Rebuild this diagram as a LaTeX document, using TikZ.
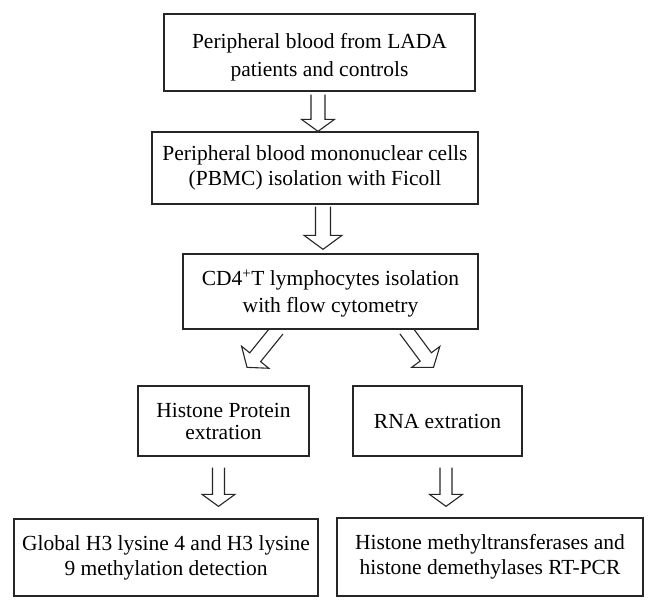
\documentclass[tikz,border=0pt]{standalone}
\usepackage{fontspec}
\setmainfont{Liberation Serif}
\usetikzlibrary{calc}
\pgfdeclarelayer{bg}
\pgfdeclarelayer{arr}
\pgfsetlayers{bg,arr,main}
% #1 start, #2 tip, #3 shaft half width, #4 head half width, #5 head length
\newcommand{\blockarr}[5]{%
  \draw[blockarrow]
    ($(#1)!#3!90:(#2)$)
    -- ($($(#2)!#5!(#1)$)!#3!90:(#2)$)
    -- ($($(#2)!#5!(#1)$)!#4!90:(#2)$)
    -- (#2)
    -- ($($(#2)!#5!(#1)$)!#4!-90:(#2)$)
    -- ($($(#2)!#5!(#1)$)!#3!-90:(#2)$)
    -- ($(#1)!#3!-90:(#2)$);%
}
\tikzset{
  box/.style={draw=black!85, line width=1.3pt, fill=white, align=center,
    inner sep=0pt, font=\fontsize{21.5pt}{#1}\selectfont},
  txt/.style={align=center, inner sep=0pt, font=\fontsize{21.5pt}{#1}\selectfont},
  blockarrow/.style={draw=black!85, line width=1.1pt, line join=miter}
}
\begin{document}
\begin{tikzpicture}[x=1pt,y=-1pt]
\begin{pgfonlayer}{bg}
  \fill[white] (0,0) rectangle (658,611);
\end{pgfonlayer}
\useasboundingbox (0,0) rectangle (658,611);

\node[box=28pt, minimum width=311pt, minimum height=77pt] (b1) at (319.5,52.5) {};
\node[txt=28.5pt] (t1) at ($(b1.center)+(0,4.5)$)
  {Peripheral blood from LADA\\patients and controls};
\node[box=25pt, minimum width=326pt, minimum height=72pt] (b2) at (315,168)
  {Peripheral blood mononuclear cells\\(PBMC) isolation with Ficoll};
\node[box=27pt, minimum width=295pt, minimum height=75pt] (b3) at (330.5,291.5) {};
\node[txt=27pt] (t3) at ($(b3.center)+(0,2)$)
  {CD4\textsuperscript{+}T lymphocytes isolation\\with flow cytometry};
\node[box=22pt, minimum width=171pt, minimum height=70pt] (b4) at (223.5,421)
  {Histone Protein\\extration};
\node[box=22pt, minimum width=169pt, minimum height=70pt] (b5) at (437.5,421)
  {RNA extration};
\node[box=25pt, minimum width=304pt, minimum height=77pt] (b6) at (166,557.5)
  {Global H3 lysine 4 and H3 lysine\\9 methylation detection};
\node[box=25pt, minimum width=306pt, minimum height=78pt] (b7) at (490,557)
  {Histone methyltransferases and\\histone demethylases RT-PCR};

\coordinate (a1s) at ($(b1.south)+(-1.5,3)$);
\coordinate (a1e) at ($(b1.south |- b2.north)+(-1.5,0)$);
\coordinate (a2s) at ($(b2.south)+(8,2)$);
\coordinate (a2e) at ($(b2.south |- b3.north)+(8,-4)$);
\coordinate (a3s) at ($(b3.south)+(-53,0)$);
\coordinate (a3e) at ($(b4.north)+(23.5,-18)$);
\coordinate (a4s) at ($(b3.south)+(75,0)$);
\coordinate (a4e) at ($(b5.north)+(-4,-18)$);
\coordinate (a5s) at ($(b4.south)+(-5,11)$);
\coordinate (a5e) at ($(b4.south |- b6.north)+(-5,-12)$);
\coordinate (a6s) at ($(b5.south)+(8.5,11)$);
\coordinate (a6e) at ($(b5.south |- b7.north)+(8.5,-11)$);

\begin{pgfonlayer}{arr}
  \blockarr{a1s}{a1e}{7pt}{16.5pt}{12pt}
  \blockarr{a2s}{a2e}{7.5pt}{19pt}{14pt}
  \blockarr{a3s}{a3e}{7pt}{17.5pt}{13pt}
  \blockarr{a4s}{a4e}{7pt}{17.5pt}{13pt}
  \blockarr{a5s}{a5e}{6pt}{16.5pt}{12pt}
  \blockarr{a6s}{a6e}{6pt}{16.5pt}{12pt}
\end{pgfonlayer}
\end{tikzpicture}
\end{document}
